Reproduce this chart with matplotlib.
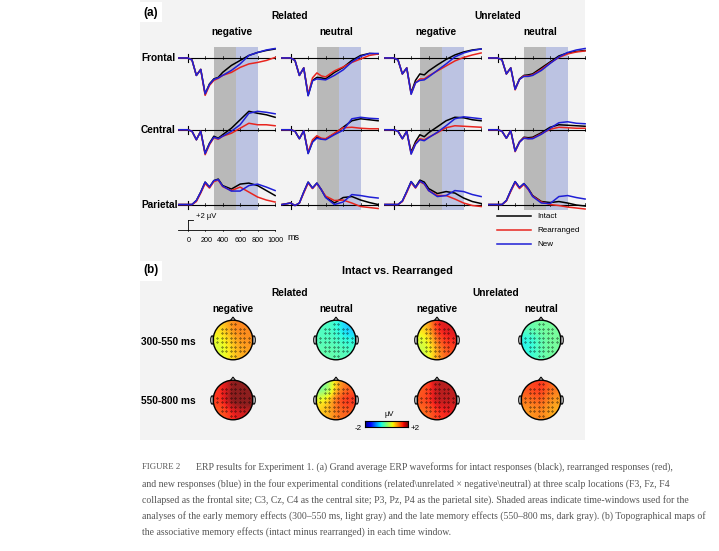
import numpy as np
import matplotlib
matplotlib.use("Agg")
import matplotlib.pyplot as plt
from matplotlib.patches import Rectangle, Circle, Polygon, Ellipse

plt.rcParams["font.family"] = ["Liberation Sans", "DejaVu Sans"]

# ---- data -----------------------------------------------------------------
T = [-100, 0, 50, 100, 150, 200, 250, 300, 350, 400, 500, 600, 700, 800, 900, 1000]
CONDS = ["Intact", "Rearranged", "New"]
COLS = ["Related negative", "Related neutral", "Unrelated negative", "Unrelated neutral"]
SITES = ["Frontal", "Central", "Parietal"]

# (intact, rearranged, new) in µV, per column and site
REL_NEG_F = ([0, 0, -.4, -3.5, -2.3, -7.2, -5.2, -4.2, -3.9, -2.9, -1.5, -.5, .5, 1.1, 1.5, 1.8],
             [0, 0, -.4, -3.5, -2.3, -7.5, -5.5, -4.5, -4.1, -3.5, -2.9, -1.9, -1.2, -.9, -.5, .1],
             [0, 0, -.4, -3.5, -2.3, -7.2, -5.3, -4.3, -4.0, -3.5, -2.5, -1.2, .5, 1.1, 1.6, 1.9])
REL_NEG_C = ([0, 0, -.3, -2, -.3, -4.7, -2.7, -1.3, -1.7, -1.0, .3, 2.0, 3.7, 3.3, 3.0, 2.5],
             [0, 0, -.3, -2, -.3, -5.0, -3.0, -1.6, -1.9, -1.3, -.7, .3, 1.3, 1.0, 1.0, .8],
             [0, 0, -.3, -2, -.3, -4.8, -2.8, -1.5, -1.8, -1.3, -.3, 1.0, 3.3, 3.7, 3.5, 3.2])
REL_NEG_P = ([0, 0, 0, .8, 2.5, 4.5, 3.5, 4.8, 5.1, 3.8, 3.1, 4.1, 4.3, 3.8, 2.8, 1.8],
             [0, 0, 0, .6, 2.3, 4.2, 3.3, 4.6, 4.9, 3.6, 2.8, 3.5, 2.5, 1.5, .9, .5],
             [0, 0, 0, .8, 2.5, 4.5, 3.5, 4.8, 5.0, 3.7, 2.7, 2.7, 3.8, 4.1, 3.5, 2.8])

REL_NEU_F = ([0, 0, -.5, -3.5, -2.0, -7.5, -4.5, -3.9, -4.0, -4.2, -2.9, -1.9, -.5, .5, .9, .8],
             [0, 0, -.5, -3.5, -2.0, -7.3, -4.0, -3.0, -3.6, -3.8, -2.6, -1.8, -.9, -.2, .5, .8],
             [0, 0, -.5, -3.5, -2.0, -7.6, -4.6, -4.2, -4.3, -4.4, -3.5, -2.4, -.8, .3, .9, .9])
REL_NEU_C = ([0, 0, -.3, -1.8, -.2, -4.7, -2.4, -1.5, -1.8, -1.9, -.8, .5, 1.8, 2.2, 2.0, 1.8],
             [0, 0, -.3, -1.8, -.2, -4.5, -2.0, -1.2, -1.7, -1.8, -.7, .4, .5, .3, .2, .2],
             [0, 0, -.3, -1.8, -.2, -4.8, -2.5, -1.7, -1.9, -2.0, -1.0, -.1, 2.2, 2.5, 2.3, 2.2])
REL_NEU_P = ([0, .3, -.2, .3, 2.5, 4.5, 3.3, 4.3, 3.0, 1.5, .3, 1.4, 1.6, .9, .4, 0],
             [0, .3, -.2, .3, 2.3, 4.3, 3.2, 4.2, 3.0, 1.7, .8, .9, .3, -.4, -.6, -.8],
             [0, .3, -.2, .3, 2.5, 4.5, 3.3, 4.3, 3.0, 1.4, 0, .5, 2.0, 1.8, 1.5, 1.3])

UNR_NEG_F = ([0, 0, -.4, -3.2, -2.0, -7.0, -4.5, -3.2, -3.4, -2.6, -1.4, -.3, .6, 1.2, 1.6, 1.8],
             [0, 0, -.4, -3.2, -2.0, -7.2, -5.0, -4.2, -4.2, -3.6, -2.6, -1.6, -.6, .1, .6, 1.0],
             [0, 0, -.4, -3.2, -2.0, -7.3, -5.0, -4.5, -4.4, -3.8, -2.5, -1.2, .2, 1.0, 1.5, 1.8])
UNR_NEG_C = ([0, 0, -.3, -1.8, -.3, -4.5, -2.4, -1.0, -1.4, -.6, .6, 1.8, 2.5, 2.4, 2.0, 1.8],
             [0, 0, -.3, -1.8, -.3, -4.8, -2.8, -1.8, -2.0, -1.5, -.6, .4, .8, .7, .6, .5],
             [0, 0, -.3, -1.8, -.3, -4.9, -2.9, -2.0, -2.2, -1.6, -.5, .8, 2.2, 2.6, 2.4, 2.2])
UNR_NEG_P = ([0, 0, 0, .7, 2.6, 4.6, 3.5, 4.9, 4.5, 3.2, 2.2, 2.6, 2.3, 1.3, .6, .2],
             [0, 0, 0, .6, 2.4, 4.4, 3.3, 4.6, 4.1, 2.8, 1.8, 1.8, 1.1, .3, -.2, -.4],
             [0, 0, 0, .7, 2.6, 4.6, 3.4, 4.7, 4.2, 2.8, 1.6, 1.8, 2.8, 2.6, 2.0, 1.6])

UNR_NEU_F = ([0, 0, -.4, -3.2, -2.0, -6.2, -4.2, -3.5, -3.4, -3.2, -2.0, -.8, .4, 1.0, 1.3, 1.5],
             [0, 0, -.4, -3.2, -2.0, -6.4, -4.3, -3.6, -3.6, -3.4, -2.3, -1.0, .1, .8, 1.2, 1.4],
             [0, 0, -.4, -3.2, -2.0, -6.3, -4.3, -3.7, -3.7, -3.5, -2.5, -1.1, .2, 1.1, 1.6, 1.9])
UNR_NEU_C = ([0, 0, -.3, -1.7, -.2, -4.2, -2.4, -1.5, -1.6, -1.5, -.6, .5, 1.0, .9, .8, .7],
             [0, 0, -.3, -1.7, -.2, -4.4, -2.5, -1.6, -1.8, -1.7, -.8, .1, .5, .4, .3, .3],
             [0, 0, -.3, -1.7, -.2, -4.3, -2.5, -1.7, -1.8, -1.8, -.9, .3, 1.4, 1.6, 1.3, 1.2])
UNR_NEU_P = ([0, 0, 0, .8, 2.8, 4.6, 3.4, 4.2, 3.2, 1.8, .6, .4, .6, .3, -.1, -.3],
             [0, 0, 0, .7, 2.6, 4.4, 3.2, 4.0, 3.0, 1.7, .5, .0, -.2, -.5, -.7, -.9],
             [0, 0, 0, .8, 2.8, 4.6, 3.4, 4.2, 3.1, 1.6, .3, .2, 1.6, 1.8, 1.4, 1.1])

WAVES = [[REL_NEG_F, REL_NEG_C, REL_NEG_P], [REL_NEU_F, REL_NEU_C, REL_NEU_P],
         [UNR_NEG_F, UNR_NEG_C, UNR_NEG_P], [UNR_NEU_F, UNR_NEU_C, UNR_NEU_P]]

# topographic intact-minus-rearranged effect (µV) at 9 regions:
# [F-left, F-mid, F-right, C-left, C-mid, C-right, P-left, P-mid, P-right]
WINDOWS = ["300-550 ms", "550-800 ms"]
TOPO_EARLY = [[.7, 1.2, 1.1, .5, .9, 1.1, .4, .8, 1.0],
              [-.3, -.4, -.8, -.3, -.3, -.5, -.2, -.2, -.3],
              [.7, 1.7, 1.7, .4, 1.3, 1.6, .3, 1.0, 1.4],
              [-.2, -.1, -.1, -.6, -.2, -.1, -.5, -.2, -.1]]
TOPO_LATE = [[1.5, 2.0, 2.3, 1.5, 2.2, 2.2, 1.3, 1.6, 1.7],
             [-.3, .9, 1.3, .6, 1.4, 1.6, .8, 1.2, 1.3],
             [1.3, 1.9, 1.8, 1.4, 1.9, 1.8, 1.2, 1.5, 1.6],
             [1.4, 1.6, 1.2, 1.2, 1.4, 1.0, 1.0, 1.2, .9]]

# ---- layout helpers ---------------------------------------------------------
W, H = 719, 551
fig = plt.figure(figsize=(W / 100, H / 100), dpi=100)
ov = fig.add_axes([0, 0, 1, 1], zorder=0)
ov.set_xlim(0, W); ov.set_ylim(H, 0); ov.axis("off")


def fax(x0, y0, x1, y1, **kw):
    return fig.add_axes([x0 / W, 1 - y1 / H, (x1 - x0) / W, (y1 - y0) / H], **kw)


ov.add_patch(Rectangle((140, 0), 445, 440, color="#f3f3f3", lw=0))
ov.add_patch(Rectangle((140, 2), 22, 20, color="white", lw=0))
ov.add_patch(Rectangle((140, 261), 22, 20, color="white", lw=0))

bold = dict(fontweight="bold", fontsize=7.3, ha="center", va="center")
ov.text(143, 13, "(a)", fontweight="bold", fontsize=8.5, va="center")
ov.text(290, 16, "Related", **bold)
ov.text(498, 16, "Unrelated", **bold)
for x, lab in zip([232, 336, 436, 540], ["negative", "neutral", "negative", "neutral"]):
    ov.text(x, 32, lab, **bold)

OFFS = [0, -14.4, -29.4]
XL = [(178, 276), (281, 379), (384, 482), (488, 586)]
for ci, (x0, x1) in enumerate(XL):
    ax = fax(x0, 40, x1, 215, zorder=2)
    ax.set_xlim(-110, 1010); ax.set_ylim(-31.5, 3.6); ax.axis("off")
    ax.add_patch(Rectangle((300, -30.4), 250, 32.6, color="#a6a6a6", alpha=.75, lw=0))
    ax.add_patch(Rectangle((550, -30.4), 250, 32.6, color="#b3bbe0", alpha=.85, lw=0))
    for si, off in enumerate(OFFS):
        ax.plot([-110, 1010], [off, off], color="k", lw=.8)
        ax.plot([0, 0], [off - .8, off + .8], color="k", lw=.8)
        for tk in range(200, 1001, 200):
            ax.plot([tk, tk], [off - .3, off + .3], color="k", lw=.5)
        for vals, col in zip(WAVES[ci][si], ["black", "#e8251f", "#1f1fd6"]):
            ax.plot(T, np.array(vals) + off, color=col, lw=1.1)

for y, lab in zip([58, 130, 205], SITES):
    ov.text(141, y, lab, fontweight="bold", fontsize=7.3, va="center")

# scale bar / time axis
sc = fax(178, 210, 276, 235, zorder=2)
sc.set_xlim(-110, 1010); sc.set_ylim(-1, 4); sc.axis("off")
sc.plot([-110, 1010], [0, 0], color="k", lw=.6)
sc.plot([0, 0], [0, 2], color="k", lw=.6)
sc.plot([0, 60], [2, 2], color="k", lw=.6)
for tk in range(0, 1001, 200):
    sc.plot([tk, tk], [0, -.25], color="k", lw=.5)
ov.text(196, 216, "+2 µV", fontsize=5.5, va="center")
for tk in range(0, 1001, 200):
    ov.text(189 + tk * 0.086, 240, str(tk), fontsize=5.2, ha="center", va="center")
ov.text(287, 238, "ms", fontsize=6.5, va="center")

for y, lab, col in zip([216, 230, 244], CONDS, ["black", "#e8251f", "#1f1fd6"]):
    ov.plot([497, 531], [y, y], color=col, lw=1.1)
    ov.text(537, y, lab, fontsize=5.8, va="center")

# ---- panel (b) ------------------------------------------------------------
ov.text(143, 270, "(b)", fontweight="bold", fontsize=8.5, va="center")
ov.text(397, 271, "Intact vs. Rearranged", fontweight="bold", fontsize=7.8, ha="center", va="center")
ov.text(290, 293, "Related", **bold)
ov.text(496, 293, "Unrelated", **bold)
HX = [233, 336, 437, 541]
for x, lab in zip(HX, ["negative", "neutral", "negative", "neutral"]):
    ov.text(x, 309, lab, **bold)
for y, lab in zip([342, 401], WINDOWS):
    ov.text(141, y, lab, fontweight="bold", fontsize=7.3, va="center")

RX = np.array([-.45, 0, .45, -.5, 0, .5, -.45, 0, .45])
RY = np.array([.5, .55, .5, 0, 0, 0, -.5, -.55, -.5])
g = np.linspace(-1.05, 1.05, 120)
GX, GY = np.meshgrid(g, g)
ex = np.linspace(-.75, .75, 8)
EX, EY = np.meshgrid(ex, ex)
emask = EX ** 2 + EY ** 2 < .8 ** 2

for ri, (yc, topo) in enumerate(zip([340, 400], [TOPO_EARLY, TOPO_LATE])):
    for ci, xc in enumerate(HX):
        ax = fax(xc - 25, yc - 25, xc + 25, yc + 25, zorder=2)
        ax.set_xlim(-1.2, 1.2); ax.set_ylim(-1.2, 1.2); ax.axis("off")
        v = np.array(topo[ci])
        w = np.exp(-((GX[..., None] - RX) ** 2 + (GY[..., None] - RY) ** 2) / (2 * .3 ** 2))
        Z = (w * v).sum(-1) / w.sum(-1)
        im = ax.imshow(Z, extent=[-1.05, 1.05, -1.05, 1.05], origin="lower", cmap="jet",
                       vmin=-2, vmax=2, interpolation="bilinear", alpha=.88)
        clip = Circle((0, 0), .95, transform=ax.transData)
        im.set_clip_path(clip)
        ax.add_patch(Circle((0, 0), .95, fill=False, lw=1.0, ec="k"))
        ax.add_patch(Polygon([[-.12, .94], [0, 1.1], [.12, .94]], closed=False, fill=False, lw=.8))
        for s in (-1, 1):
            ax.add_patch(Ellipse((s * 1.0, 0), .14, .4, fill=False, lw=.8))
        ax.plot(EX[emask], EY[emask], "k.", ms=.6)

cb = fax(365, 421, 408, 427, zorder=2)
cb.imshow(np.linspace(-2, 2, 100)[None, :], aspect="auto", cmap="jet", vmin=-2, vmax=2)
cb.set_xticks([]); cb.set_yticks([])
ov.text(389, 414, "µV", fontsize=5.5, ha="center", va="center")
ov.text(358, 428, "-2", fontsize=5.8, ha="center", va="center")
ov.text(415, 428, "+2", fontsize=5.8, ha="center", va="center")

# ---- caption --------------------------------------------------------------
CAP = ["ERP results for Experiment 1. (a) Grand average ERP waveforms for intact responses (black), rearranged responses (red),",
       "and new responses (blue) in the four experimental conditions (related\\unrelated × negative\\neutral) at three scalp locations (F3, Fz, F4",
       "collapsed as the frontal site; C3, Cz, C4 as the central site; P3, Pz, P4 as the parietal site). Shaded areas indicate time-windows used for the",
       "analyses of the early memory effects (300–550 ms, light gray) and the late memory effects (550–800 ms, dark gray). (b) Topographical maps of",
       "the associative memory effects (intact minus rearranged) in each time window."]
cap_kw = dict(family=["Liberation Serif", "DejaVu Serif"], fontsize=7.0, color="#555555", va="center")
ov.text(142, 467, "FIGURE 2", **dict(cap_kw, fontsize=6.3))
ov.text(196, 467, CAP[0], **cap_kw)
for i, line in enumerate(CAP[1:]):
    ov.text(142, 484 + 16 * i, line, **cap_kw)

fig.savefig("out.png", dpi=100)
